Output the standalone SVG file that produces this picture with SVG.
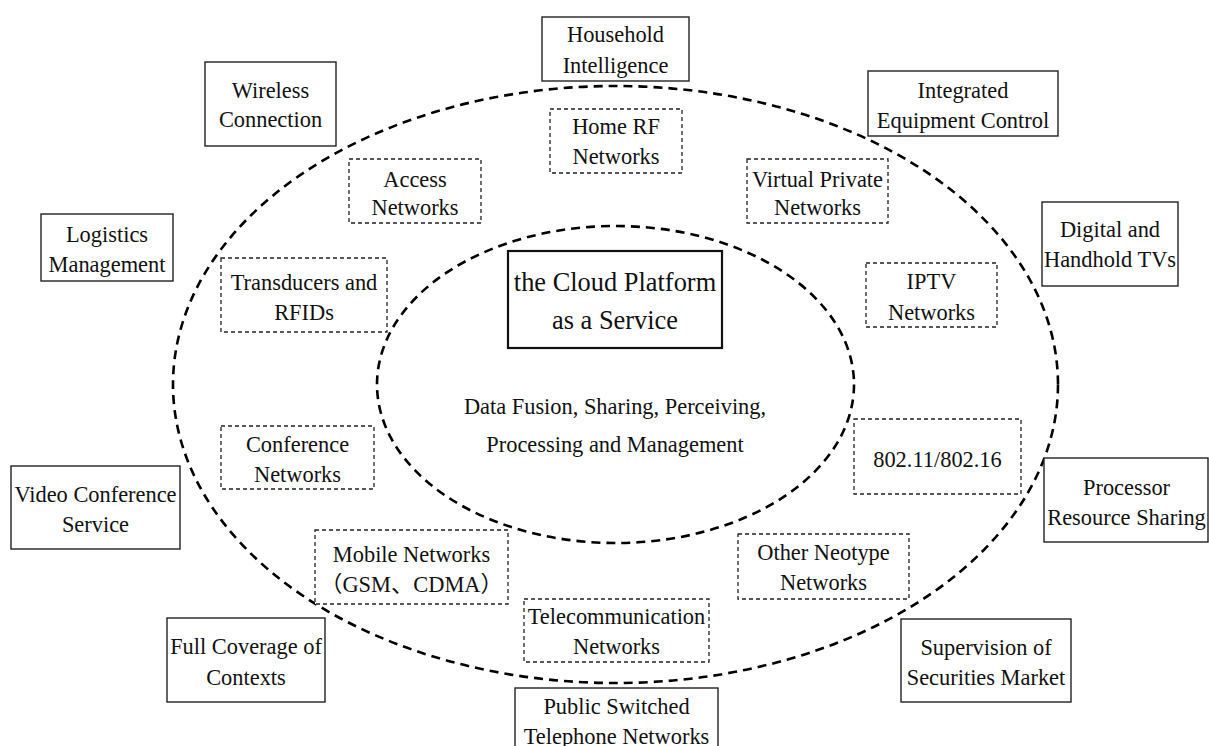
<svg xmlns="http://www.w3.org/2000/svg" width="1209" height="746" viewBox="0 0 1209 746">
<style>
text{font-family:"Liberation Serif","Times New Roman",Times,"DejaVu Serif",serif;font-size:22.4px;fill:#111;text-anchor:middle}
.cjk{font-family:"Liberation Serif","Noto Sans CJK SC",serif}
.ring{fill:none;stroke:#000;stroke-width:2.6;stroke-dasharray:9 6}
.solid{fill:#fff;stroke:#222;stroke-width:1.4}
.dash{fill:#fff;stroke:#222;stroke-width:1.3;stroke-dasharray:4 3}
.core{fill:#fff;stroke:#111;stroke-width:2.2}
.title{font-size:26.4px}
</style>
<rect width="1209" height="746" fill="#fff"/>
<g id="rings">
<ellipse class="ring" cx="615.5" cy="384.5" rx="442.5" ry="298.5"/>
<ellipse class="ring" cx="615.5" cy="384.5" rx="238.5" ry="158.5"/>
</g>
<g id="connectors"/>
<g id="core">
<rect class="core" x="508" y="251" width="214" height="97"/>
<text class="title" x="615" y="291">the Cloud Platform</text>
<text class="title" x="615" y="329">as a Service</text>
</g>
<g id="core-functions">
<text x="615" y="414">Data Fusion, Sharing, Perceiving,</text>
<text x="615" y="452">Processing and Management</text>
</g>
<g id="household">
<rect class="solid" x="542" y="17" width="147" height="64"/>
<text x="615.5" y="42">Household</text>
<text x="615.5" y="73">Intelligence</text>
</g>
<g id="wireless">
<rect class="solid" x="205" y="62" width="131" height="84"/>
<text x="270.5" y="98">Wireless</text>
<text x="270.5" y="127">Connection</text>
</g>
<g id="integrated">
<rect class="solid" x="868" y="71" width="190" height="65"/>
<text x="963" y="98">Integrated</text>
<text x="963" y="128">Equipment Control</text>
</g>
<g id="digital-tv">
<rect class="solid" x="1042" y="202" width="136" height="84"/>
<text x="1110" y="237">Digital and</text>
<text x="1110" y="267">Handhold TVs</text>
</g>
<g id="logistics">
<rect class="solid" x="41" y="214" width="132" height="67"/>
<text x="107" y="242">Logistics</text>
<text x="107" y="272">Management</text>
</g>
<g id="video-conf">
<rect class="solid" x="11" y="466" width="169" height="83"/>
<text x="95.5" y="502">Video Conference</text>
<text x="95.5" y="532">Service</text>
</g>
<g id="processor">
<rect class="solid" x="1044" y="458" width="164" height="84"/>
<text x="1126.5" y="495">Processor</text>
<text x="1126.5" y="525">Resource Sharing</text>
</g>
<g id="securities">
<rect class="solid" x="901" y="619" width="170" height="83"/>
<text x="986" y="655">Supervision of</text>
<text x="986" y="685">Securities Market</text>
</g>
<g id="full-coverage">
<rect class="solid" x="167" y="618" width="158" height="84"/>
<text x="246" y="654">Full Coverage of</text>
<text x="246" y="685">Contexts</text>
</g>
<g id="pstn">
<rect class="solid" x="515" y="688" width="203" height="70"/>
<text x="616.5" y="714">Public Switched</text>
<text x="616.5" y="744">Telephone Networks</text>
</g>
<g id="home-rf">
<rect class="dash" x="550" y="109" width="132" height="64"/>
<text x="616" y="134">Home RF</text>
<text x="616" y="164">Networks</text>
</g>
<g id="access">
<rect class="dash" x="349" y="159" width="132" height="64"/>
<text x="415" y="187">Access</text>
<text x="415" y="215">Networks</text>
</g>
<g id="vpn">
<rect class="dash" x="747" y="159" width="141" height="64"/>
<text x="817.5" y="187">Virtual Private</text>
<text x="817.5" y="215">Networks</text>
</g>
<g id="iptv">
<rect class="dash" x="866" y="263" width="131" height="64"/>
<text x="931.5" y="289">IPTV</text>
<text x="931.5" y="320">Networks</text>
</g>
<g id="transducers">
<rect class="dash" x="221" y="258" width="166" height="74"/>
<text x="304" y="290">Transducers and</text>
<text x="304" y="320">RFIDs</text>
</g>
<g id="conference">
<rect class="dash" x="221" y="426" width="153" height="63"/>
<text x="297.5" y="452">Conference</text>
<text x="297.5" y="482">Networks</text>
</g>
<g id="wifi">
<rect class="dash" x="854" y="419" width="167" height="75"/>
<text x="937.5" y="467">802.11/802.16</text>
</g>
<g id="mobile">
<rect class="dash" x="315" y="530" width="193" height="74"/>
<text x="411.5" y="562">Mobile Networks</text>
<text class="cjk" x="411.5" y="592">（GSM、CDMA）</text>
</g>
<g id="telecom">
<rect class="dash" x="524" y="599" width="185" height="63"/>
<text x="616.5" y="624">Telecommunication</text>
<text x="616.5" y="654">Networks</text>
</g>
<g id="neotype">
<rect class="dash" x="738" y="534" width="171" height="65"/>
<text x="823.5" y="560">Other Neotype</text>
<text x="823.5" y="590">Networks</text>
</g>
</svg>
